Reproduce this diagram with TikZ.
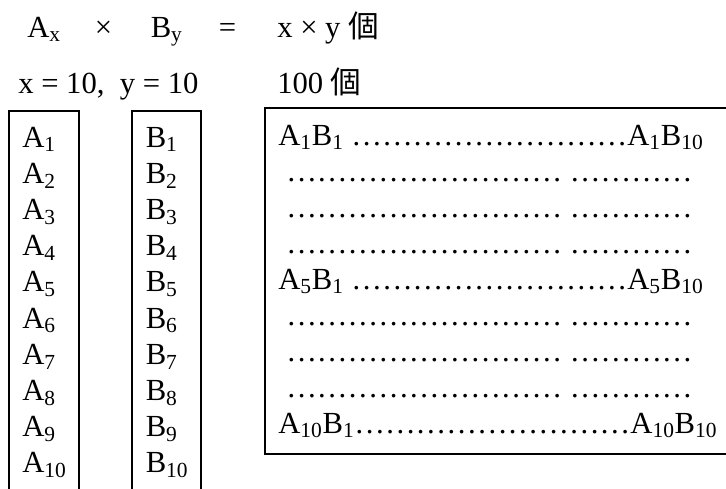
\documentclass[tikz,border=0pt]{standalone}
\usepackage{fontspec}
\setmainfont{Liberation Serif}
\newfontfamily\cjk{Noto Sans CJK JP}
\newcommand\sub[1]{\textsubscript{#1}}
\newcommand\dotrun[1]{\foreach\k in {1,...,#1}{…}}
\tikzset{
  hdr/.style={anchor=base west, inner sep=0pt, font=\fontsize{23}{27}\selectfont},
  cell/.style={anchor=base west, inner sep=0pt, font=\fontsize{23}{27}\selectfont},
  frame/.style={line width=1.5pt}
}
\begin{document}
\begin{tikzpicture}[x=0.75pt, y=-0.75pt]
  \useasboundingbox (0,0) rectangle (726,489);
  \clip (0,0) rectangle (726,489);
  % 式
  \node[hdr] (ax) at (27,37) {A\sub{x}};
  \node[hdr, anchor=base] (times) at (103.5,37) {×};
  \node[hdr] (by) at (150.5,37) {B\sub{y}};
  \node[hdr, anchor=base] (eq) at (227.5,37) {=};
  \node[hdr] (prod) at (277,37) {x × y {\cjk 個}};
  \node[hdr] (vals) at (18,93) {x = 10,\ \ y = 10};
  \node[hdr] (count) at (277,93) {100 {\cjk 個}};
  % 枠
  \draw[frame] (8.7,495) |- (78.7,111) -- (78.7,495);
  \draw[frame] (132,495) |- (200.7,111) -- (200.7,495);
  \draw[frame] (264.7,107.5) rectangle (740,454);
  % A と B
  \foreach \i in {1,...,10} {
    \node[cell] (a\i) at (22,{147+36.2*(\i-1)}) {A\sub{\i}};
    \node[cell] (b\i) at (145.5,{147+36.2*(\i-1)}) {B\sub{\i}};
  }
  % 組み合わせ
  \node[cell] (r1) at (278,145) {A\sub{1}B\sub{1} \dotrun{9}A\sub{1}B\sub{10}};
  \foreach \k in {1,2,3,5,6,7}
    \node[cell] (d\k) at (286,{145+36*\k}) {\dotrun{9} \dotrun{4}};
  \node[cell] (r5) at (278,289) {A\sub{5}B\sub{1} \dotrun{9}A\sub{5}B\sub{10}};
  \node[cell] (r10) at (278,433) {A\sub{10}B\sub{1}\dotrun{9}A\sub{10}B\sub{10}};
\end{tikzpicture}
\end{document}
